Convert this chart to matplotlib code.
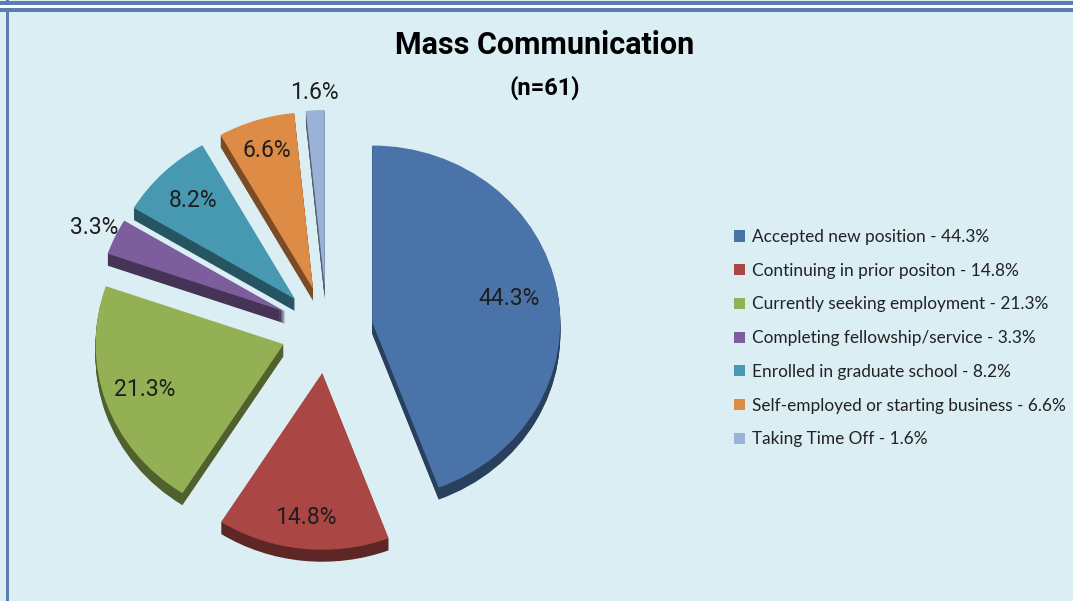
import matplotlib
matplotlib.use("Agg")
import matplotlib.pyplot as plt
import numpy as np
from matplotlib.patches import Rectangle
from matplotlib.colors import to_rgb

# chart data
categories = ["Accepted new position", "Continuing in prior positon",
              "Currently seeking employment", "Completing fellowship/service",
              "Enrolled in graduate school", "Self-employed or starting business",
              "Taking Time Off"]
shares = [44.3, 14.8, 21.3, 3.3, 8.2, 6.6, 1.6]
colors = ["#4A74A9", "#AA4644", "#93B054", "#7D5E9C", "#4699B0", "#DE8B45", "#9AB1D8"]

W, H = 1073, 601
bg = "#DAEEF4"
frame = "#5B7DB2"
narrow = ["Roboto", "DejaVu Sans"]

fig = plt.figure(figsize=(W / 100, H / 100), dpi=100)
fig.patch.set_facecolor(bg)

# frame lines of the slide box (pixel coords -> figure fraction)
def px_rect(x0, y0, x1, y1, color):
    fig.add_artist(Rectangle((x0 / W, 1 - y1 / H), (x1 - x0) / W, (y1 - y0) / H,
                             transform=fig.transFigure, color=color, lw=0))

px_rect(0, 1, W, 5, frame)
px_rect(0, 5, W, 8, "white")
px_rect(6, 0, 9, 5, frame)
px_rect(0, 8, W, 12, frame)
px_rect(6, 8, 9, H, frame)

ax = fig.add_axes([0, 0, 1, 1])
ax.patch.set_alpha(0)
k = 0.94            # vertical squash to mimic the tilted 3D pie
cx, cy = 327, 330   # pie centre in pixels
R = 188
depth = 12
explode = [46] * len(shares)   # pie explode is in data units

def dark(c, f=0.55):
    r, g, b = to_rgb(c)
    return (r * f, g * f, b * f)

# side walls: stacked darker copies shifted downward
for d in range(depth, 0, -1):
    ax.pie(shares, colors=[dark(c) for c in colors], explode=explode,
           startangle=90, counterclock=False, radius=R,
           center=(cx, (H - cy - d) / k), wedgeprops=dict(linewidth=0))

wedges, _ = ax.pie(shares, colors=colors, explode=explode,
                   startangle=90, counterclock=False, radius=R,
                   center=(cx, (H - cy) / k), wedgeprops=dict(linewidth=0))

ax.set_aspect("auto")
ax.set_xlim(0, W)
ax.set_ylim(0, H / k)
ax.axis("off")

# percentage labels placed along each wedge's mid angle
label_r = [0.74, 0.82, 0.78, 1.12, 0.78, 0.82, 1.1]
for w, v, f in zip(wedges, shares, label_r):
    ang = np.deg2rad((w.theta1 + w.theta2) / 2)
    x = w.center[0] + f * w.r * np.cos(ang)
    y = w.center[1] + f * w.r * np.sin(ang)
    ax.text(x, y, f"{v}%", ha="center", va="center", fontsize=16.5,
            color="#1E1E1E", family=narrow)

fig.text(545 / W, 1 - 45 / H, "Mass Communication", ha="center", va="center",
         fontsize=22, fontweight="bold", color="black", family=narrow)
fig.text(545 / W, 1 - 88 / H, "(n=61)", ha="center", va="center",
         fontsize=17, fontweight="bold", color="black", family=narrow)

labels = [f"{c} - {v}%" for c, v in zip(categories, shares)]
leg = ax.legend(wedges, labels, loc="upper left",
                bbox_to_anchor=(734 / W, 1 - 229 / H), bbox_transform=fig.transFigure,
                frameon=False, borderpad=0, borderaxespad=0,
                handlelength=0.62, handleheight=0.62, handletextpad=0.4,
                labelspacing=1.03, prop=dict(family="Lato", size=12.4))
for t in leg.get_texts():
    t.set_color("#222222")

fig.savefig("out.png", dpi=100, facecolor=bg)
